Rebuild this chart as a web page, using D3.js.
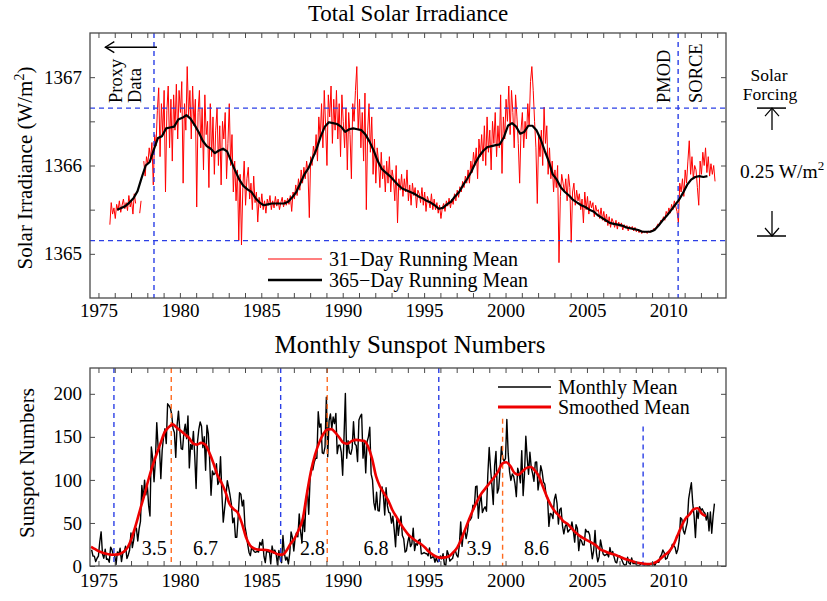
<!DOCTYPE html>
<html><head><meta charset="utf-8">
<script src="https://cdn.jsdelivr.net/npm/d3@7"></script>
<style>
body{margin:0;background:#fff}
svg{display:block}
text{font-family:"Liberation Serif","Times New Roman",Times,serif;fill:#000}
</style>
</head><body>
<svg id="c" width="827" height="601"></svg>
<script>
// ---------------- DATA ----------------
const tickYears = d3.range(1975, 2014);
const tsiTicks = [1365, 1365.5, 1366, 1366.5, 1367];
const sunTicks = [0, 50, 100, 150, 200];

// TSI 31-day running mean, monthly samples from 1975.70 (plot years)
const tsi31Start = 1975.70;
const tsi31 = [
1365.33,1365.58,1365.45,1365.52,1365.40,1365.56,1365.49,1365.60,1365.47,1365.55,1365.62,1365.51,
1365.58,1365.49,1365.66,1365.53,1365.60,1365.45,1365.68,1365.57,null,null,1365.46,1365.60,
null,1366.05,1365.88,1366.10,1366.02,1366.20,1366.08,1366.26,1365.78,1366.35,1366.22,1366.62,
1366.88,1366.10,1366.70,1366.35,1366.85,1365.70,1366.62,1366.90,1366.20,1366.75,1366.05,1366.80,
1366.40,1366.92,1366.30,1366.85,1366.60,1366.95,1365.80,1366.70,1366.40,1367.12,1366.55,1366.85,
1366.30,1366.90,1366.45,1366.75,1365.53,1366.60,1366.85,1366.20,1366.65,1365.95,1366.80,1366.35,
1366.50,1365.75,1366.70,1366.10,1366.55,1365.90,1366.40,1366.65,1366.00,1366.45,1365.78,1366.50,
1366.30,1366.60,1365.85,1366.25,1366.70,1366.00,1366.35,1365.70,1366.05,1365.60,1365.95,1365.15,
1365.90,1365.10,1365.75,1366.05,1365.55,1365.85,1365.98,1365.62,1365.80,1365.50,1365.88,1365.58,
1365.70,1365.36,1365.64,1365.52,1365.68,1365.50,1365.60,1365.46,1365.62,1365.55,1365.66,1365.50,
1365.60,1365.52,1365.65,1365.54,1365.62,1365.50,1365.58,1365.64,1365.53,1365.61,1365.55,1365.63,
1365.56,1365.66,1365.48,1365.70,1365.62,1365.78,1365.66,1365.85,1365.72,1365.95,1365.80,1365.98,
1365.85,1366.05,1365.92,1365.41,1366.10,1366.00,1366.22,1366.12,1366.35,1366.05,1366.55,1366.30,
1366.70,1366.20,1366.85,1366.45,1366.00,1366.80,1366.55,1366.90,1366.25,1366.75,1366.40,1366.85,
1366.30,1366.70,1366.10,1366.80,1366.50,1366.20,1366.65,1365.95,1366.60,1366.35,1365.85,1366.70,
1366.50,1366.85,1367.12,1366.40,1366.75,1366.20,1366.60,1366.05,1366.82,1365.50,1366.40,1366.70,
1366.15,1366.55,1365.90,1366.30,1365.80,1366.20,1366.05,1365.75,1366.15,1365.85,1366.00,1365.70,
1366.05,1365.80,1366.10,1365.70,1365.95,1365.85,1365.60,1366.00,1365.35,1365.85,1365.72,1365.90,
1365.65,1365.85,1365.70,1365.95,1365.60,1365.78,1365.55,1365.80,1365.66,1365.75,1365.52,1365.72,
1365.68,1365.58,1365.75,1365.55,1365.70,1365.48,1365.65,1365.60,1365.52,1365.68,1365.50,1365.62,
1365.50,1365.58,1365.46,1365.55,1365.40,1365.52,1365.57,1365.48,1365.60,1365.54,1365.63,1365.52,
1365.62,1365.56,1365.68,1365.60,1365.72,1365.64,1365.76,1365.70,1365.82,1365.75,1365.88,1365.80,
1365.95,1365.80,1366.05,1365.92,1366.15,1366.00,1366.20,1365.85,1366.30,1366.10,1366.35,1366.05,
1366.45,1366.00,1366.55,1366.15,1366.40,1365.95,1366.50,1366.25,1366.60,1366.10,1366.45,1366.20,
1366.80,1365.91,1366.55,1366.30,1366.75,1366.50,1366.90,1366.35,1366.85,1366.60,1366.20,1366.80,
1366.55,1366.25,1365.80,1366.40,1366.60,1366.20,1366.50,1366.30,1366.70,1366.45,1366.95,1367.12,
1366.85,1366.50,1366.20,1365.57,1366.35,1366.10,1366.40,1366.00,1366.66,1366.25,1366.45,1365.90,
1366.20,1365.85,1366.05,1365.70,1365.95,1365.75,1366.00,1364.90,1365.65,1365.90,1365.80,1365.70,
1365.85,1365.60,1365.90,1365.75,1365.13,1365.70,1365.80,1365.55,1365.72,1365.60,1365.68,1365.50,
1365.62,1365.35,1365.70,1365.50,1365.65,1365.45,1365.60,1365.52,1365.58,1365.42,1365.55,1365.48,
1365.50,1365.40,1365.52,1365.38,1365.48,1365.36,1365.45,1365.32,1365.42,1365.30,1365.40,1365.36,
1365.30,1365.38,1365.28,1365.36,1365.31,1365.35,1365.27,1365.33,1365.29,1365.32,1365.26,1365.31,
1365.28,1365.31,1365.26,1365.30,1365.25,1365.28,1365.24,1365.27,1365.23,1365.26,1365.24,1365.25,
1365.23,1365.26,1365.24,1365.27,1365.25,1365.29,1365.27,1365.31,1365.34,1365.32,1365.38,1365.36,
1365.42,1365.38,1365.48,1365.44,1365.52,1365.46,1365.56,1365.50,1365.60,1365.54,1365.48,1365.35,
1365.80,1365.70,1365.85,1365.65,1365.95,1365.80,1366.05,1366.28,1365.90,1366.10,1365.85,1366.00,
1365.95,1365.75,1365.55,1366.05,1365.90,1366.15,1366.00,1366.20,1365.92,1366.10,1365.88,1366.02,
1365.90,1366.00,1365.82
];

// TSI 365-day running mean, quarterly samples from 1976.15 (plot years)
const tsi365Start = 1976.15;
const tsi365 = [
1365.50,1365.52,1365.54,1365.58, 1365.63,1365.71,1365.86,1366.00, 1366.04,1366.18,1366.31,1366.33,
1366.42,1366.43,1366.44,1366.52, 1366.54,1366.57,1366.53,1366.46, 1366.38,1366.28,1366.22,1366.19,
1366.14,1366.17,1366.19,1366.16, 1366.05,1365.94,1365.84,1365.77, 1365.73,1365.70,1365.63,1365.58,
1365.55,1365.56,1365.57,1365.57, 1365.57,1365.57,1365.59,1365.64, 1365.70,1365.80,1365.90,1365.97,
1366.08,1366.19,1366.33,1366.44, 1366.49,1366.48,1366.47,1366.44, 1366.38,1366.41,1366.42,1366.41,
1366.40,1366.35,1366.27,1366.17, 1366.05,1365.96,1365.92,1365.88, 1365.83,1365.78,1365.74,1365.72,
1365.70,1365.68,1365.65,1365.63, 1365.60,1365.58,1365.55,1365.51, 1365.52,1365.56,1365.59,1365.65,
1365.70,1365.78,1365.85,1365.93, 1366.03,1366.11,1366.17,1366.21, 1366.22,1366.23,1366.24,1366.32,
1366.45,1366.48,1366.44,1366.36, 1366.38,1366.45,1366.45,1366.40, 1366.30,1366.17,1366.05,1365.90,
1365.84,1365.75,1365.70,1365.66, 1365.61,1365.58,1365.55,1365.53, 1365.50,1365.48,1365.44,1365.41,
1365.38,1365.35,1365.34,1365.33, 1365.32,1365.30,1365.29,1365.28, 1365.27,1365.25,1365.25,1365.25,
1365.27,1365.32,1365.38,1365.43, 1365.49,1365.55,1365.61,1365.69, 1365.78,1365.84,1365.87,1365.88,
1365.87,1365.88
];

const forcingLevels = [1366.65, 1365.15];   // blue dashed horizontal lines
const instrumentYears = [1978.41, 2010.6];   // proxy / PMOD-SORCE boundaries

// Monthly sunspot numbers Jan 1975 - Apr 2013, plotted from 1974.58 (plot years)
const sunStart = 1974.58;
const sunMonthly = [
18.9,11.5,11.5,5.1,9.0,11.4,28.2,39.7,13.9,9.1,19.4,7.8,
8.1,4.3,21.9,18.8,12.4,12.2,1.9,16.4,13.5,20.6,5.2,15.3,
16.4,23.1,8.7,12.9,18.6,38.5,21.4,30.1,44.0,43.8,29.1,43.2,
51.9,93.6,76.5,99.7,82.7,95.1,70.4,58.1,138.2,125.1,97.9,122.7,
166.6,137.5,138.0,101.5,134.4,149.5,159.4,142.2,188.4,186.2,183.3,176.3,
159.6,155.0,126.2,164.1,179.9,157.3,136.3,135.4,155.0,164.7,147.9,174.4,
114.0,141.3,135.5,156.4,127.5,90.0,143.8,158.7,167.3,162.4,137.5,150.1,
111.2,163.6,153.8,122.0,82.2,110.4,106.1,107.6,118.8,94.7,98.1,127.0,
84.3,51.0,66.5,80.7,99.2,91.1,82.2,71.8,50.3,55.8,33.3,33.4,
57.0,85.1,83.5,69.7,76.4,46.1,37.4,25.5,15.7,12.0,22.8,18.7,
16.5,15.9,17.2,16.2,27.5,24.2,30.7,11.1,3.9,18.6,16.2,17.3,
2.5,23.2,15.1,18.5,13.7,1.1,18.1,7.4,3.8,35.4,15.2,6.8,
10.4,2.4,14.7,39.6,33.0,17.4,33.0,38.7,33.9,60.6,39.9,27.1,
59.0,40.0,76.2,88.0,60.1,101.8,113.8,111.6,120.1,125.1,125.1,179.2,
161.3,165.1,131.4,130.6,138.5,196.2,126.9,168.9,176.7,159.4,173.0,165.5,
177.3,130.5,140.3,140.3,132.2,105.4,149.4,200.3,125.2,145.5,131.4,129.7,
136.9,167.5,141.9,140.0,121.3,169.7,173.7,176.3,125.3,144.1,108.2,144.4,
150.0,161.1,106.7,99.8,73.6,65.2,85.7,64.5,63.9,88.7,91.8,82.6,
59.3,91.0,69.8,62.2,61.3,49.8,57.9,42.2,22.4,56.4,35.6,48.9,
57.8,35.5,31.7,16.1,17.8,28.0,35.1,22.5,25.7,44.0,18.0,26.2,
24.2,29.9,31.1,14.0,14.5,15.6,14.5,14.3,11.8,21.1,9.0,10.0,
11.5,4.4,9.2,4.8,5.5,11.8,8.2,14.4,1.6,0.9,17.9,13.3,
5.7,7.6,8.7,15.5,18.5,12.7,10.4,24.4,51.3,22.8,39.0,41.2,
31.9,40.3,54.8,53.4,56.3,70.7,66.6,92.2,92.9,55.5,74.0,81.9,
62.0,66.3,68.8,63.7,106.4,137.7,113.5,93.7,71.5,116.7,133.2,84.6,
90.1,112.9,138.5,125.5,121.6,124.9,170.1,130.5,109.7,99.4,106.8,104.4,
95.6,80.6,113.5,107.7,96.6,134.0,81.8,106.4,150.7,125.5,106.5,132.2,
114.1,107.4,98.4,120.7,120.8,88.3,99.6,116.4,109.6,97.5,95.0,81.6,
79.5,46.0,61.1,60.0,55.2,77.4,83.3,72.7,48.7,65.5,67.3,46.5,
37.3,45.8,49.1,39.3,41.5,43.2,51.1,40.9,27.7,48.0,43.5,17.9,
31.3,29.2,24.5,24.4,42.6,39.6,40.2,36.4,22.1,8.5,18.0,41.2,
15.3,4.9,10.6,30.2,22.3,13.9,12.2,12.9,14.4,10.5,21.4,13.6,
16.9,10.6,4.8,3.7,11.7,12.0,10.0,6.2,2.4,0.9,1.7,10.1,
3.4,2.1,9.3,2.9,2.9,3.1,0.5,0.5,1.1,2.9,4.1,0.8,
1.5,1.4,0.7,0.8,2.9,2.9,3.2,0.0,4.2,4.6,4.2,10.6,
13.1,18.6,15.4,7.9,8.8,13.5,16.1,19.6,25.2,23.5,21.6,14.5,
19.0,29.4,56.2,54.4,41.6,37.0,43.9,50.6,78.0,88.0,96.7,73.0,
58.3,33.1,64.2,55.2,69.0,64.5,66.5,63.0,61.4,53.3,61.8,40.8,
62.9,38.1,57.9,72.4
];

// Smoothed sunspot number, quarterly samples from 1974.55 (plot years)
const sunSmoothStart = 1974.55;
const sunSmooth = [
22.4,19.5,
16.8,15.2,14.0,13.0, 13.2,14.0,16.5,22.0, 33.0,48.0,65.0,81.0, 99.0,115.0,129.0,142.0,
155.0,161.0,164.5,161.0, 157.0,153.0,149.0,142.5, 141.0,143.0,141.0,132.0, 120.0,106.0,97.0,86.0,
72.0,66.0,62.0,50.0, 34.0,24.0,20.5,19.0, 18.8,18.6,17.5,15.5, 13.5,13.2,18.0,26.0,
32.0,42.0,55.0,84.0, 110.0,129.0,143.0,153.0, 158.5,159.0,155.0,149.0, 143.0,142.0,145.0,146.5,
146.0,145.5,139.0,125.0, 104.0,92.0,84.0,76.0, 65.0,57.0,49.0,42.0, 36.0,32.0,28.5,25.5,
21.5,16.5,13.0,10.5, 9.6,10.0,11.5,16.0, 22.0,32.0,44.0,56.0, 67.0,77.0,85.0,91.0,
97.0,103.0,110.0,119.0, 120.5,116.0,108.0,106.0, 110.0,114.0,115.0,111.0, 104.0,92.0,80.0,70.0,
63.0,58.0,52.0,49.0, 44.0,39.0,35.0,32.0, 29.5,27.0,24.0,19.5, 17.5,15.5,14.0,12.5,
10.5,8.5,7.0,5.5, 4.0,3.3,2.5,2.2, 3.0,5.0,9.0,13.0, 17.0,24.0,35.0,46.0,
55.0,60.0,66.0,67.0, 61.0,58.0
];

// Cycle minima (blue) and maxima (orange) markers; upper end in sunspot units
const cycleMin = [{t:1975.95, top:230}, {t:1986.19, top:230}, {t:1995.90, top:230}, {t:2008.45, top:162}];
const cycleMax = [{t:1979.47, top:230}, {t:1989.05, top:230}, {t:1999.82, top:171}];
const cycleLabels = [{t:1978.42, s:"3.5"}, {t:1981.57, s:"6.7"}, {t:1988.14, s:"2.8"},
                     {t:1992.05, s:"6.8"}, {t:1998.37, s:"3.9"}, {t:2001.90, s:"8.6"}];

// ---------------- DRAW ----------------
const svg = d3.select("#c");
const SERIF = '"Liberation Serif","Times New Roman",Times,serif';
const BLUE = "#2b3fe6", ORANGE = "#ff6a1f", FRAME = "#4a4a4a";

const x = d3.scaleLinear().domain([1974.48, 2013.54]).range([90, 726]);
const yT = d3.scaleLinear().domain([1364.5, 1367.5]).range([298, 33]);
const yS = d3.scaleLinear().domain([0, 230]).range([566, 368]);

const toSeries = (start, step, vals) => vals.map((v, i) => ({t: start + i * step, v}));

function clip(id, y0, y1) {
  svg.append("clipPath").attr("id", id).append("rect")
    .attr("x", 90).attr("y", y0).attr("width", 636).attr("height", y1 - y0);
}
clip("cT", 33, 298);
clip("cS", 368, 566);

function styleAxis(g, fs) {
  g.attr("font-family", SERIF).attr("font-size", fs);
  g.select(".domain").remove();
  g.selectAll(".tick line").attr("stroke", FRAME).attr("stroke-width", 1);
  g.selectAll(".tick text").style("font-size", fs + "px")
    .style("font-family", SERIF).attr("fill", "#000");
}

function axes(yScale, yTicks, yFmt, y0, y1, xPad) {
  const gb = svg.append("g").attr("transform", `translate(0,${y1})`)
    .call(d3.axisBottom(x).tickValues(tickYears).tickSize(-5).tickPadding(xPad)
      .tickFormat(d => d % 5 === 0 ? d : ""));
  styleAxis(gb, 19);
  const gt = svg.append("g").attr("transform", `translate(0,${y0})`)
    .call(d3.axisTop(x).tickValues(tickYears).tickSize(-5).tickFormat(""));
  styleAxis(gt, 19);
  const gl = svg.append("g").attr("transform", `translate(90,0)`)
    .call(d3.axisLeft(yScale).tickValues(yTicks).tickSize(-5).tickPadding(8).tickFormat(yFmt));
  styleAxis(gl, 19);
  const gr = svg.append("g").attr("transform", `translate(726,0)`)
    .call(d3.axisRight(yScale).tickValues(yTicks).tickSize(-5).tickFormat(""));
  styleAxis(gr, 19);
  svg.append("rect").attr("x", 90).attr("y", y0).attr("width", 636).attr("height", y1 - y0)
    .attr("fill", "none").attr("stroke", FRAME).attr("stroke-width", 1.3);
}

// ===== Top panel: TSI =====
const lineT = d3.line().defined(d => d.v !== null).x(d => x(d.t)).y(d => yT(d.v));
const gT = svg.append("g").attr("clip-path", "url(#cT)");
gT.append("path").datum(toSeries(tsi31Start, 1 / 12, tsi31)).attr("d", lineT)
  .attr("fill", "none").attr("stroke", "#ff0000").attr("stroke-width", 1).attr("stroke-linejoin", "round");

forcingLevels.forEach(v => {
  gT.append("line").attr("x1", 90).attr("x2", 726).attr("y1", yT(v)).attr("y2", yT(v))
    .attr("stroke", BLUE).attr("stroke-width", 1.4).attr("stroke-dasharray", "5,4");
});
instrumentYears.forEach(t => {
  gT.append("line").attr("x1", x(t)).attr("x2", x(t)).attr("y1", 33).attr("y2", 298)
    .attr("stroke", BLUE).attr("stroke-width", 1.4).attr("stroke-dasharray", "5,4");
});

gT.append("path").datum(toSeries(tsi365Start, 0.25, tsi365)).attr("d", lineT)
  .attr("fill", "none").attr("stroke", "#000").attr("stroke-width", 2.2).attr("stroke-linejoin", "round");

axes(yT, tsiTicks, d => Number.isInteger(d) ? d : "", 33, 298, 6);

svg.append("text").attr("x", 408).attr("y", 20.5).attr("text-anchor", "middle")
  .style("font-size", "23px").text("Total Solar Irradiance");

const ylT = svg.append("text").attr("transform", "translate(32,168) rotate(-90)")
  .attr("text-anchor", "middle").style("font-size", "21px");
ylT.append("tspan").text("Solar Irradiance (W/m");
ylT.append("tspan").attr("dy", -8).style("font-size", "14px").text("2");
ylT.append("tspan").attr("dy", 8).text(")");

// Proxy arrow
const ay = yT(1367.34), ax0 = x(instrumentYears[0]), ax1 = x(1975.42);
svg.append("line").attr("x1", ax0 + 3).attr("x2", ax1).attr("y1", ay).attr("y2", ay)
  .attr("stroke", "#000").attr("stroke-width", 1.5);
svg.append("path").attr("d", `M${ax1 + 9},${ay - 5.5} L${ax1},${ay} L${ax1 + 9},${ay + 5.5}`)
  .attr("fill", "none").attr("stroke", "#000").attr("stroke-width", 1.3);

function vText(px, py, s) {
  svg.append("text").attr("transform", `translate(${px},${py}) rotate(-90)`)
    .style("font-size", "18.5px").text(s);
}
vText(122, 103, "Proxy");
vText(141, 103, "Data");
vText(670, 103, "PMOD");
vText(702, 103, "SORCE");

// Legend (top)
const legT = [{c: "#ff0000", w: 1.2, s: "31\u2212Day Running Mean", y: 259},
              {c: "#000", w: 2.6, s: "365\u2212Day Running Mean", y: 280}];
legT.forEach(d => {
  svg.append("line").attr("x1", 268).attr("x2", 322).attr("y1", d.y).attr("y2", d.y)
    .attr("stroke", d.c).attr("stroke-width", d.w);
  svg.append("text").attr("x", 329).attr("y", d.y + 6.5).style("font-size", "20px").text(d.s);
});

// Solar forcing annotation (right)
svg.append("text").attr("x", 769).attr("y", 81).attr("text-anchor", "middle").style("font-size", "17.5px").text("Solar");
svg.append("text").attr("x", 770).attr("y", 100).attr("text-anchor", "middle").style("font-size", "17.5px").text("Forcing");
const yUp = yT(forcingLevels[0]), yDn = 236;
svg.append("line").attr("x1", 757).attr("x2", 786).attr("y1", yUp).attr("y2", yUp).attr("stroke", "#000").attr("stroke-width", 1.5);
svg.append("line").attr("x1", 772).attr("x2", 772).attr("y1", yUp).attr("y2", 130).attr("stroke", "#000").attr("stroke-width", 1.3);
svg.append("path").attr("d", `M765,${yUp + 8} L772,${yUp} L779,${yUp + 8}`).attr("fill", "none").attr("stroke", "#000").attr("stroke-width", 1.2);
svg.append("line").attr("x1", 757).attr("x2", 786).attr("y1", yDn).attr("y2", yDn).attr("stroke", "#000").attr("stroke-width", 1.5);
svg.append("line").attr("x1", 772).attr("x2", 772).attr("y1", 211).attr("y2", yDn).attr("stroke", "#000").attr("stroke-width", 1.3);
svg.append("path").attr("d", `M765,${yDn - 8} L772,${yDn} L779,${yDn - 8}`).attr("fill", "none").attr("stroke", "#000").attr("stroke-width", 1.2);
const ft = svg.append("text").attr("x", 740).attr("y", 178).style("font-size", "19.5px");
ft.append("tspan").text("0.25 W/m");
ft.append("tspan").attr("dy", -8).style("font-size", "13px").text("2");

// ===== Bottom panel: sunspots =====
const lineS = d3.line().x(d => x(d.t)).y(d => yS(d.v));
const gS = svg.append("g").attr("clip-path", "url(#cS)");
gS.append("path").datum(toSeries(sunStart, 1 / 12, sunMonthly)).attr("d", lineS)
  .attr("fill", "none").attr("stroke", "#000").attr("stroke-width", 1.4).attr("stroke-linejoin", "round");

cycleMin.forEach(d => {
  gS.append("line").attr("x1", x(d.t)).attr("x2", x(d.t)).attr("y1", yS(d.top)).attr("y2", 566)
    .attr("stroke", BLUE).attr("stroke-width", 1.4).attr("stroke-dasharray", "5,4");
});
cycleMax.forEach(d => {
  gS.append("line").attr("x1", x(d.t)).attr("x2", x(d.t)).attr("y1", yS(d.top)).attr("y2", 566)
    .attr("stroke", ORANGE).attr("stroke-width", 1.4).attr("stroke-dasharray", "5,4");
});

gS.append("path").datum(toSeries(sunSmoothStart, 0.25, sunSmooth)).attr("d", lineS.curve(d3.curveMonotoneX))
  .attr("fill", "none").attr("stroke", "#ee0000").attr("stroke-width", 2.6).attr("stroke-linejoin", "round");

cycleLabels.forEach(d => {
  svg.append("text").attr("x", x(d.t)).attr("y", 555).attr("text-anchor", "middle")
    .style("font-size", "20px").text(d.s);
});

axes(yS, sunTicks, d => d, 368, 566, 8);

svg.append("text").attr("x", 410).attr("y", 353).attr("text-anchor", "middle")
  .style("font-size", "25px").text("Monthly Sunspot Numbers");
svg.append("text").attr("transform", "translate(34,463) rotate(-90)").attr("text-anchor", "middle")
  .style("font-size", "21px").text("Sunspot Numbers");

const legS = [{c: "#000", w: 1.6, s: "Monthly Mean", y: 387},
              {c: "#ee0000", w: 2.8, s: "Smoothed Mean", y: 407}];
legS.forEach(d => {
  svg.append("line").attr("x1", 498).attr("x2", 551).attr("y1", d.y).attr("y2", d.y)
    .attr("stroke", d.c).attr("stroke-width", d.w);
  svg.append("text").attr("x", 558).attr("y", d.y + 6.5).style("font-size", "20px").text(d.s);
});
</script>
</body></html>
